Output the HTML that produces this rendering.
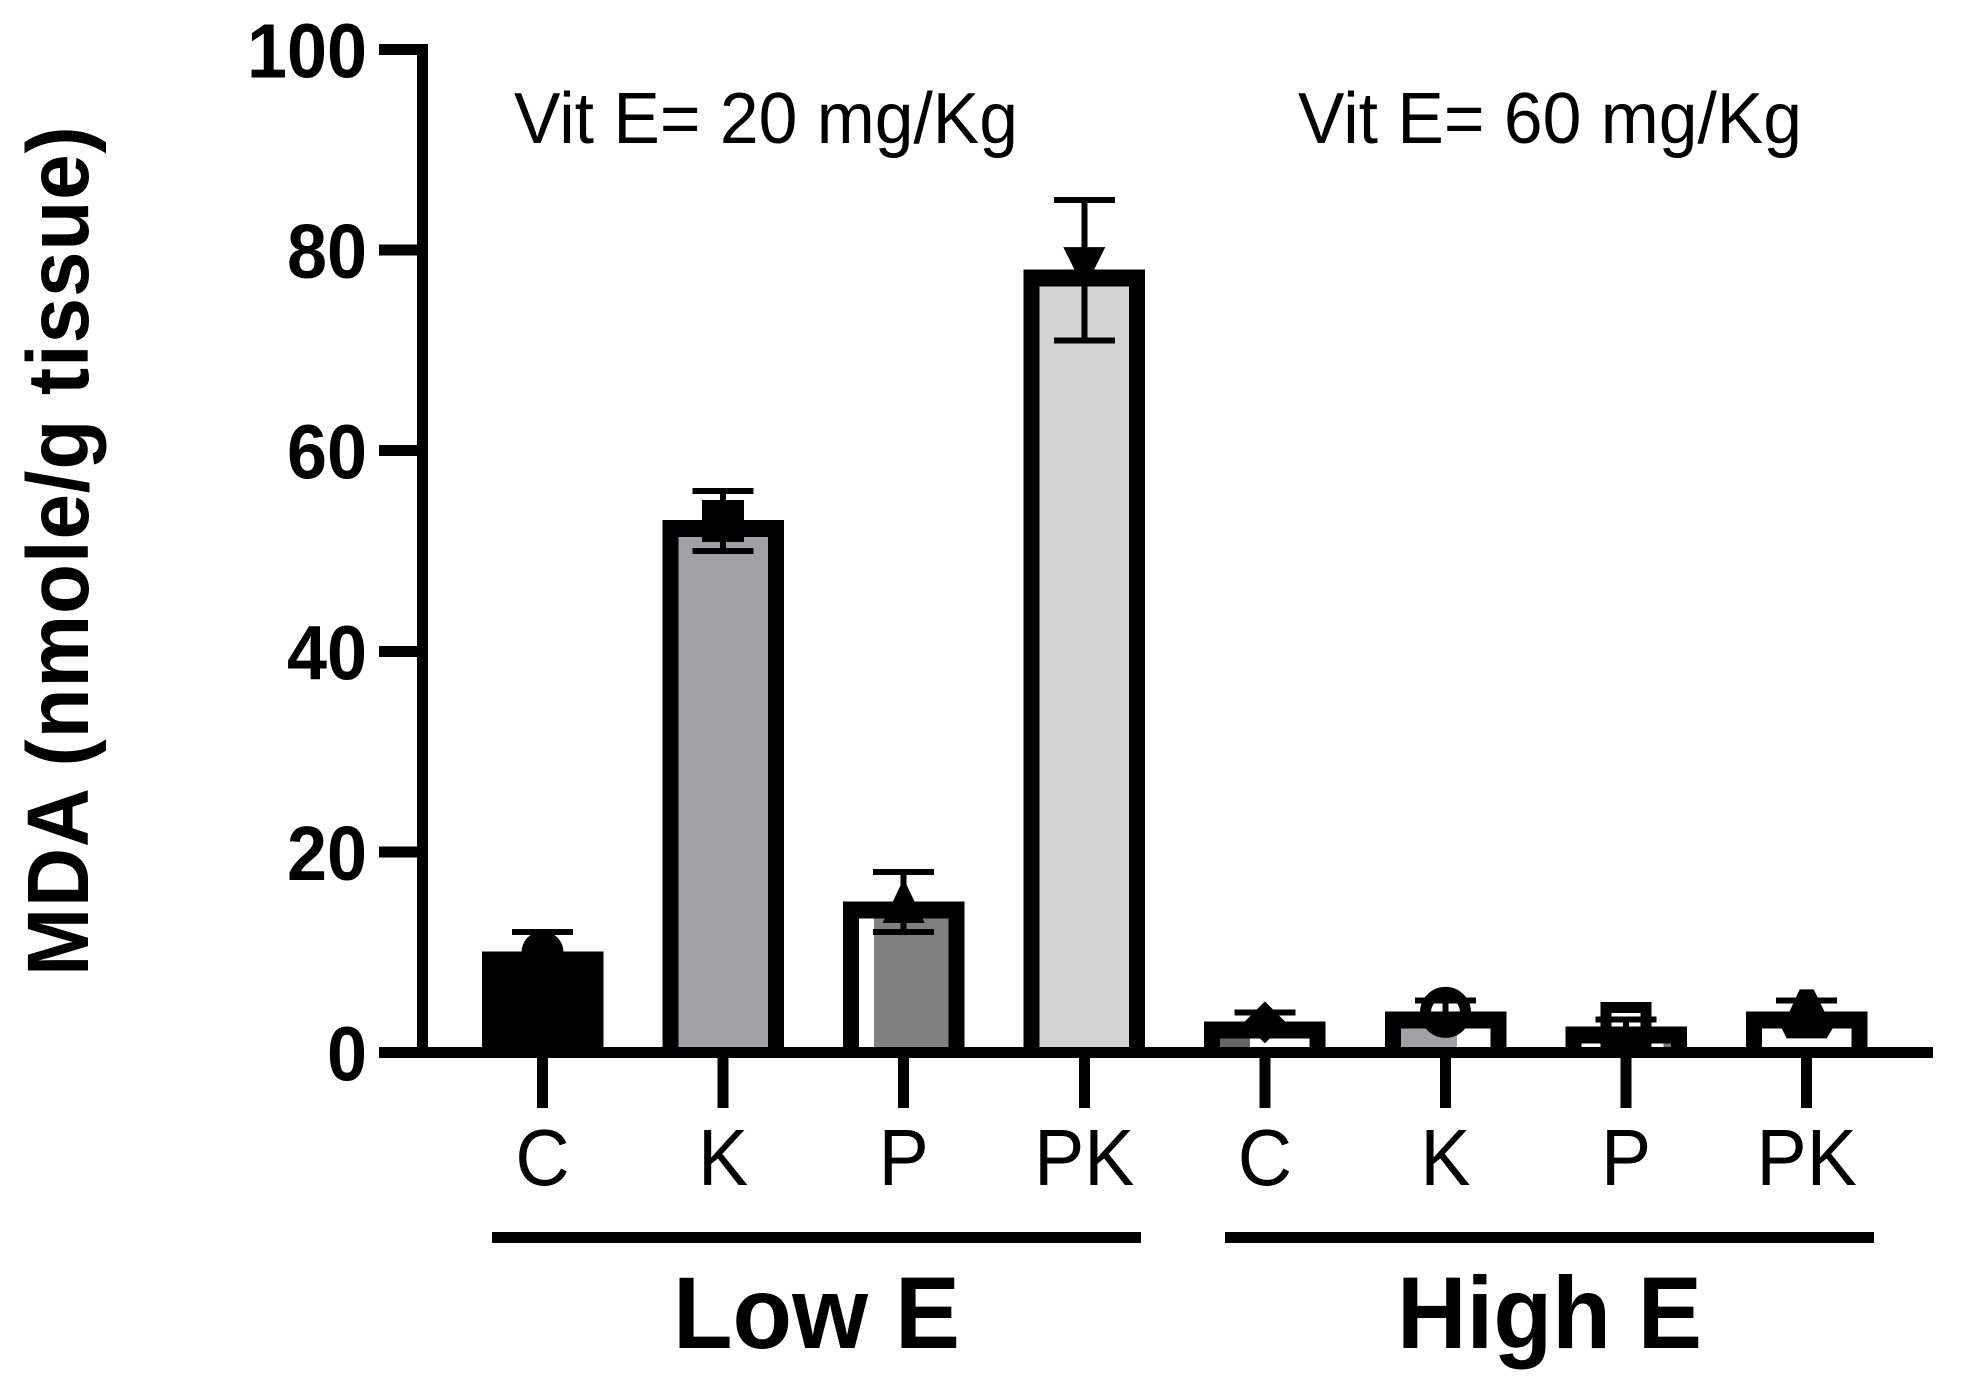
<!DOCTYPE html>
<html lang="en">
<head>
<meta charset="utf-8">
<title>MDA by treatment and vitamin E dose</title>
<style>
  html, body { margin: 0; padding: 0; background: #fff; }
  svg { display: block; }
  text { fill: #000; font-family: "Liberation Sans", sans-serif; }
  .shape { shape-rendering: crispEdges; }
  .bold { font-weight: 700; }
</style>
</head>
<body>
<svg id="chart" xmlns="http://www.w3.org/2000/svg" width="1963" height="1389" viewBox="0 0 1963 1389">
  <rect x="0" y="0" width="1963" height="1389" fill="#fff"/>
  <text class="bold" font-size="87" transform="translate(88 976) rotate(-90) scale(0.94 1)" textLength="904" lengthAdjust="spacing">MDA (nmole/g tissue)</text>
  <text x="514" y="143" font-size="72" textLength="504" lengthAdjust="spacingAndGlyphs">Vit E= 20 mg/Kg</text>
  <text x="1298" y="143" font-size="72" textLength="504" lengthAdjust="spacingAndGlyphs">Vit E= 60 mg/Kg</text>
  <rect class="shape" x="492" y="1232" width="649" height="11" fill="#000"/>
  <rect class="shape" x="1225" y="1232" width="649" height="11" fill="#000"/>
  <text class="bold" x="673" y="1348" font-size="102" textLength="287" lengthAdjust="spacingAndGlyphs">Low E</text>
  <text class="bold" x="1397" y="1348" font-size="102" textLength="305" lengthAdjust="spacingAndGlyphs">High E</text>
  <g id="bars"></g>
  <g id="axes"></g>
</svg>
<script>
// Chart data
const categories = ['C', 'K', 'P', 'PK', 'C', 'K', 'P', 'PK'];
const groups = ['low-e', 'low-e', 'low-e', 'low-e', 'high-e', 'high-e', 'high-e', 'high-e'];
const means = [10, 53, 15, 78, 3, 4, 2.5, 4];
const errors = [2, 3, 3, 7, 1, 1.2, 0.8, 1.2];
const yTickValues = [0, 20, 40, 60, 80, 100];

// Appearance (not data)
const fillColors = ['#000000', '#a1a0a5', '#808080', '#d3d3d3', '#666666', '#a1a0a5', '#737373', '#ffffff'];
const fillFromFraction = [0, 0, 0.167, 0, 0, 0, 0.92, 0];
const fillToFraction = [1, 1, 1, 1, 0.333, 0.63, 1, 1];
const markerKinds = ['circle', 'square', 'triangle-up', 'triangle-down', 'diamond', 'open-circle', 'open-square', 'open-triangle'];

const SVG_NS = 'http://www.w3.org/2000/svg';
const X0 = 542.5, X_STEP = 180.6, BAR_HALF = 60.75, BORDER = 16, BORDER_TOP = 17;
const Y0 = 1052.5, Y_PER_UNIT = 10.03;
const AXIS_LEFT = 379, AXIS_RIGHT = 1933, AXIS_W = 11;

function xScale(i) { return X0 + X_STEP * i; }
function yScale(v) { return Y0 - Y_PER_UNIT * v; }

function make(tag, attrs, parent) {
  const el = document.createElementNS(SVG_NS, tag);
  Object.keys(attrs).forEach(function (k) { el.setAttribute(k, attrs[k]); });
  parent.appendChild(el);
  return el;
}
function rectAttrs(x1, y1, x2, y2, fill) {
  return { class: 'shape', x: x1, y: y1, width: x2 - x1, height: y2 - y1, fill: fill };
}
function polygonPoints(cx, cy, pts) {
  return pts.map(function (p) { return (cx + p[0]) + ',' + (cy + p[1]); }).join(' ');
}

function drawMarker(kind, cx, cy, parent) {
  let el;
  if (kind === 'circle') {
    el = make('circle', { cx: cx, cy: cy, r: 21, fill: '#000' }, parent);
  } else if (kind === 'square') {
    el = make('rect', rectAttrs(cx - 21, cy - 21, cx + 21, cy + 21, '#000'), parent);
  } else if (kind === 'triangle-up') {
    el = make('polygon', { points: polygonPoints(cx, cy, [[-3, -17], [3, -17], [21, 21], [-21, 21]]), fill: '#000' }, parent);
  } else if (kind === 'triangle-down') {
    el = make('polygon', { points: polygonPoints(cx, cy, [[-21, -23], [21, -23], [0, 19]]), fill: '#000' }, parent);
  } else if (kind === 'diamond') {
    el = make('polygon', { points: polygonPoints(cx, cy, [[0, -21], [21, 0], [0, 21], [-21, 0]]), fill: '#000' }, parent);
  } else if (kind === 'open-circle') {
    el = make('circle', { cx: cx, cy: cy, r: 20, fill: 'none', stroke: '#000', 'stroke-width': 11 }, parent);
  } else if (kind === 'open-square') {
    el = make('rect', { class: 'shape', x: cx - 20, y: cy - 20, width: 40, height: 40, fill: 'none', stroke: '#000', 'stroke-width': 11 }, parent);
  } else {
    el = make('polygon', { points: polygonPoints(cx, cy, [[-7, -23], [7, -23], [26, 16], [20, 26], [-20, 26], [-25, 16]]), fill: '#000' }, parent);
  }
  return el;
}

const barsLayer = document.getElementById('bars');
const axesLayer = document.getElementById('axes');

// Bars, markers and error bars
categories.forEach(function (cat, i) {
  const name = groups[i] + '-' + cat.toLowerCase();
  const cx = xScale(i);
  const left = cx - BAR_HALF, right = cx + BAR_HALF;
  const top = yScale(means[i]) - 0.7;
  const base = Y0;

  const group = make('g', {}, barsLayer);
  
  

  const outline = make('rect', rectAttrs(left, top, right, base, '#000'), group);
  
  

  const innerLeft = left + BORDER, innerRight = right - BORDER, innerTop = top + BORDER_TOP;
  if (innerTop < base) {
    const inner = make('rect', rectAttrs(innerLeft, innerTop, innerRight, base, '#fff'), group);
    
    

    const span = innerRight - innerLeft;
    const fill = make('rect', rectAttrs(innerLeft + span * fillFromFraction[i], innerTop, innerLeft + span * fillToFraction[i], base, fillColors[i]), group);
    
    
  }

  const marker = drawMarker(markerKinds[i], cx, yScale(means[i]), group);
  
  

  const hi = yScale(means[i] + errors[i]), lo = yScale(means[i] - errors[i]);
  const stem = make('rect', rectAttrs(cx - 3, hi, cx + 3, lo, '#000'), group);
  
  

  const capTop = make('rect', rectAttrs(cx - 30.5, hi - 3, cx + 30.5, hi + 3, '#000'), group);
  
  

  const capBottom = make('rect', rectAttrs(cx - 30.5, lo - 3, cx + 30.5, lo + 3, '#000'), group);
  
  
});

// Y axis
const yAxisLine = make('rect', rectAttrs(417, yScale(100) - 5.5, 428, Y0 + 5.5, '#000'), axesLayer);



yTickValues.forEach(function (v) {
  const y = yScale(v);
  const tick = make('rect', rectAttrs(AXIS_LEFT, y - 5.5, 417, y + 5.5, '#000'), axesLayer);
  
  

  const text = String(v);
  const label = make('text', { class: 'bold', x: 367, y: y + 28, 'font-size': 77, 'text-anchor': 'end', textLength: 40 * text.length, lengthAdjust: 'spacingAndGlyphs' }, axesLayer);
  label.textContent = text;
  
  
});

// X axis
const xAxisLine = make('rect', rectAttrs(AXIS_LEFT, Y0 - 5.5, AXIS_RIGHT, Y0 + 5.5, '#000'), axesLayer);



categories.forEach(function (cat, i) {
  const name = groups[i] + '-' + cat.toLowerCase();
  const cx = xScale(i);
  const tick = make('rect', rectAttrs(cx - 5.5, Y0 + 5.5, cx + 5.5, 1108, '#000'), axesLayer);
  
  

  const label = make('text', { x: cx, y: 1185, 'font-size': 80, 'text-anchor': 'middle' }, axesLayer);
  label.textContent = cat;
  label.setAttribute('textLength', label.getComputedTextLength() * 0.94);
  label.setAttribute('lengthAdjust', 'spacingAndGlyphs');
  
  
});
</script>
</body>
</html>
